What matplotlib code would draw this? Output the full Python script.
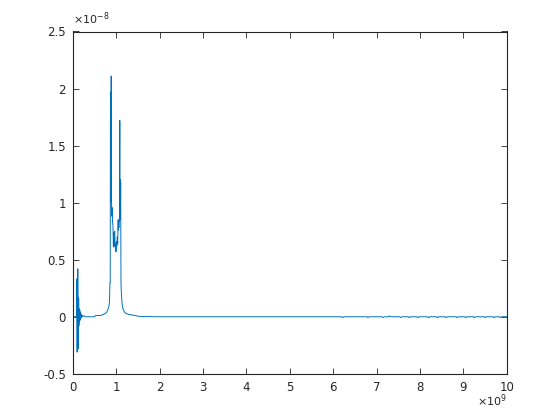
import numpy as np
import matplotlib
matplotlib.use("Agg")
import matplotlib.pyplot as plt
from matplotlib.ticker import FuncFormatter, MultipleLocator

plt.rcParams['font.family'] = ['DejaVu Sans']
plt.rcParams['axes.unicode_minus'] = False

# frequency in GHz (x1e9 Hz), response in units of 1e-8
freq_ghz = [0.0, 0.05, 0.09, 0.095, 0.10, 0.105, 0.11, 0.115, 0.12, 0.125, 0.13, 0.135,
            0.14, 0.145, 0.15, 0.16, 0.17, 0.18, 0.19, 0.20, 0.22, 0.24, 0.30, 0.50,
            0.52, 0.65, 0.70, 0.75, 0.78, 0.815, 0.835, 0.845, 0.855, 0.862, 0.868,
            0.872, 0.876, 0.880, 0.885, 0.890, 0.895, 0.900, 0.905, 0.910, 0.915,
            0.925, 0.935, 0.940, 0.945, 0.950, 0.955, 0.965, 0.975, 0.985, 0.995,
            1.005, 1.015, 1.025, 1.035, 1.045, 1.050, 1.055, 1.062, 1.068, 1.075,
            1.083, 1.088, 1.093, 1.098, 1.103, 1.110, 1.120, 1.135, 1.150, 1.170,
            1.200, 1.250, 1.300, 1.450, 1.50, 1.60, 2.00, 6.20, 6.22, 6.25, 6.78,
            6.80, 6.83, 7.13, 7.15, 7.18, 7.28, 7.30, 7.33, 7.53, 7.55, 7.58, 7.73,
            7.75, 7.78, 7.93, 7.95, 7.98, 8.18, 8.20, 8.23, 8.38, 8.40, 8.43, 8.58,
            8.60, 8.63, 8.83, 8.85, 8.88, 9.03, 9.05, 9.08, 9.23, 9.25, 9.28, 9.48,
            9.50, 9.53, 9.68, 9.70, 9.73, 9.83, 9.85, 9.88, 10.0]
resp_e8 = [0.0, 0.0, 0.0, 0.33, -0.31, 0.34, -0.30, 0.42, -0.28, 0.17, -0.13, 0.16,
           -0.08, 0.07, -0.05, 0.06, -0.03, 0.04, -0.01, 0.02, 0.0, 0.01, 0.0, 0.0,
           0.01, 0.012, 0.02, 0.03, 0.04, 0.07, 0.10, 0.13, 0.30, 0.30, 1.97,
           1.2, 1.9, 1.0, 2.11, 1.2, 0.90, 0.96, 0.88, 0.95, 0.83,
           0.80, 0.62, 0.73, 0.61, 0.74, 0.63, 0.75, 0.62, 0.64, 0.57,
           0.66, 0.62, 0.70, 0.64, 0.85, 0.76, 0.84, 0.78, 0.85, 0.84,
           1.72, 0.85, 1.20, 0.90, 1.18, 0.30, 0.20, 0.12, 0.08, 0.055,
           0.035, 0.025, 0.02, 0.01, 0.005, 0.002, 0.0, 0.0, -0.008, 0.0, 0.0,
           -0.008, 0.0, 0.0, -0.008, 0.0, 0.0, 0.008, 0.0, 0.0, -0.008, 0.0, 0.0,
           -0.008, 0.0, 0.0, -0.008, 0.0, 0.0, -0.008, 0.0, 0.0, -0.008, 0.0, 0.0,
           -0.008, 0.0, 0.0, -0.008, 0.0, 0.0, -0.008, 0.0, 0.0, -0.008, 0.0, 0.0,
           -0.008, 0.0, 0.0, -0.008, 0.0, 0.0, -0.008, 0.0, 0.0]

x = np.array(freq_ghz) * 1e9
y = np.array(resp_e8) * 1e-8

fig = plt.figure(figsize=(5.6, 4.2), dpi=100)
ax = fig.add_axes([0.13, 0.11, 0.775, 0.815])
ax.plot(x, y, color='#0072BD', linewidth=0.7)

ax.set_xlim(0, 1e10)
ax.set_ylim(-0.5e-8, 2.5e-8)
ax.xaxis.set_major_locator(MultipleLocator(1e9))
ax.yaxis.set_major_locator(MultipleLocator(0.5e-8))
ax.xaxis.set_major_formatter(FuncFormatter(lambda v, p: f"{v/1e9:g}"))
ax.yaxis.set_major_formatter(FuncFormatter(lambda v, p: f"{v/1e-8:g}"))

tc = '#262626'
ax.tick_params(direction='in', top=True, right=True, length=4.5, width=0.6,
               colors=tc, labelsize=8.5, pad=5)
for s in ax.spines.values():
    s.set_color(tc)
    s.set_linewidth(0.8)

ax.text(0.0, 1.012, r'$\times10^{-8}$', transform=ax.transAxes, ha='left', va='bottom',
        fontsize=8, color=tc)
ax.text(1.0, -0.055, r'$\times10^{9}$', transform=ax.transAxes, ha='right', va='top',
        fontsize=8, color=tc)

fig.savefig('out.png', dpi=100)
